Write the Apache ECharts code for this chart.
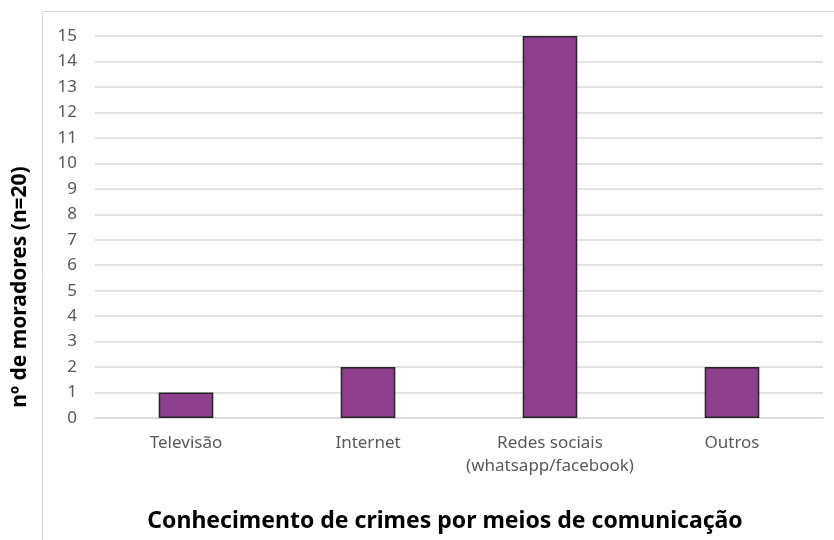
<!DOCTYPE html>
<html>
<head>
<meta charset="utf-8">
<script src="https://cdn.jsdelivr.net/npm/echarts@6/dist/echarts.min.js"></script>
<style>html,body{margin:0;padding:0;background:#fff}#c{width:834px;height:540px}</style>
</head>
<body>
<div id="c"></div>
<script>
const categories = ['Televisão', 'Internet', 'Redes sociais\n(whatsapp/facebook)', 'Outros'];
const values = [1, 2, 15, 2];
const yTicks = [0, 15, 1];
const yTitle = 'nº de moradores (n=20)';
const xTitle = 'Conhecimento de crimes por meios de comunicação';

const chart = echarts.init(document.getElementById('c'));
chart.setOption({
  animation: false,
  grid: { left: 95, right: 11, top: 36, bottom: 122, containLabel: false },
  graphic: [{
    type: 'rect', shape: { x: 42.5, y: 11.5, width: 800, height: 600 },
    style: { fill: 'none', stroke: '#d9d9d9', lineWidth: 1 }, z: -1
  }, {
    type: 'text', x: 445, y: 521,
    style: { text: xTitle, fontFamily: 'Noto Sans', fontSize: 23, fontWeight: 'bold', fill: '#000',
      textAlign: 'center', textVerticalAlign: 'middle' }
  }, {
    type: 'text', x: 20, y: 287, rotation: Math.PI / 2,
    style: { text: yTitle, fontFamily: 'Noto Sans', fontSize: 21, fontWeight: 'bold', fill: '#000',
      textAlign: 'center', textVerticalAlign: 'middle' }
  }],
  xAxis: {
    type: 'category', data: categories,
    axisTick: { show: false },
    axisLine: { lineStyle: { color: '#d9d9d9', width: 1.5 } },
    axisLabel: { interval: 0, hideOverlap: false, color: '#595959', fontFamily: 'Noto Sans', fontSize: 17, margin: 14, lineHeight: 23 }
  },
  yAxis: {
    type: 'value', min: yTicks[0], max: yTicks[1], interval: yTicks[2],
    axisLabel: { color: '#595959', fontFamily: 'Noto Sans', fontSize: 17, margin: 18 },
    splitLine: { lineStyle: { color: '#d9d9d9', width: 1.5 } },
    axisLine: { show: false }, axisTick: { show: false }
  },
  series: [{
    type: 'bar', data: values, barWidth: '30%',
    itemStyle: { color: '#8e3f8e', borderColor: '#262626', borderWidth: 1.5 }
  }]
});
</script>
</body>
</html>
